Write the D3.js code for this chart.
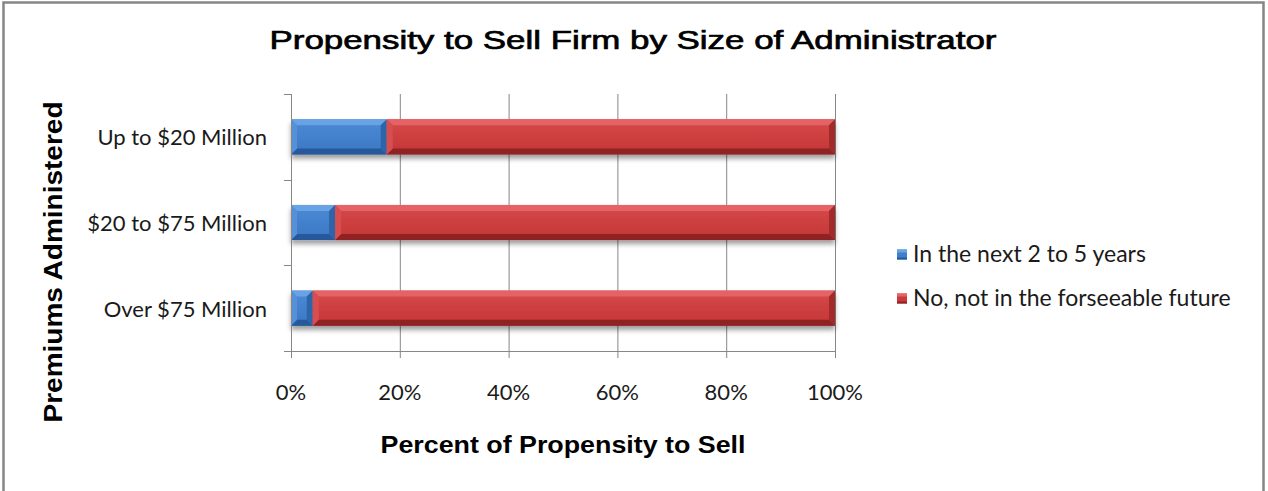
<!DOCTYPE html>
<html>
<head>
<meta charset="utf-8">
<script src="https://cdn.jsdelivr.net/npm/d3@7"></script>
<style>
  html, body { margin: 0; padding: 0; background: #ffffff; }
  svg { display: block; }
</style>
</head>
<body>
<svg id="chart" width="1268" height="491"></svg>
<script>
// Chart data
const categories = ["Up to $20 Million", "$20 to $75 Million", "Over $75 Million"];
const seriesNames = ["In the next 2 to 5 years", "No, not in the forseeable future"];
const nextTwoToFive = [17.6, 8.1, 4.0];
const notForeseeable = [82.4, 91.9, 96.0];
const xTicks = [0, 20, 40, 60, 80, 100];

const svg = d3.select("#chart");

// Outer frame
svg.append("rect")
  .attr("x", 3.5).attr("y", 2.5)
  .attr("width", 1260).attr("height", 500)
  .attr("fill", "#fff").attr("stroke", "#868686").attr("stroke-width", 2.5);

const plot = { left: 291, right: 835, top: 94, bottom: 351 };

const x = d3.scaleLinear().domain([0, 100]).range([plot.left, plot.right]);
const y = d3.scaleBand().domain(categories)
  .range([plot.top, plot.bottom])
  .paddingInner(0.59).paddingOuter(0.295);

const axisColor = "#878787";
const labelFont = "Lato, 'Open Sans', sans-serif";
const titleFont = "'Liberation Sans', Arial, sans-serif";

// Gridlines
svg.append("g").selectAll("line")
  .data(xTicks.filter(t => t > 0))
  .join("line")
  .attr("x1", d => x(d) + 0.5).attr("x2", d => x(d) + 0.5)
  .attr("y1", plot.top).attr("y2", plot.bottom)
  .attr("stroke", axisColor).attr("stroke-width", 1);

// Defs: drop shadow and face gradients for the bars
const defs = svg.append("defs");
const f = defs.append("filter").attr("id", "shadow")
  .attr("x", "-5%").attr("y", "-20%").attr("width", "110%").attr("height", "160%");
f.append("feDropShadow").attr("dx", 0).attr("dy", 4).attr("stdDeviation", 2.4)
  .attr("flood-color", "#000").attr("flood-opacity", 0.38);

const palettes = [
  { face: "#3f7ecb", top: "#69a3e6", left: "#5590d9", bottom: "#27599a", right: "#2f65a8", g1: "#4c8bd6", g2: "#3a77c2" },
  { face: "#cb3a3b", top: "#e56466", left: "#d84e50", bottom: "#8f2224", right: "#a22a2c", g1: "#d64a4b", g2: "#c43536" }
];
palettes.forEach((p, i) => {
  const lg = defs.append("linearGradient").attr("id", "grad" + i)
    .attr("x1", 0).attr("y1", 0).attr("x2", 0).attr("y2", 1);
  lg.append("stop").attr("offset", "0%").attr("stop-color", p.g1);
  lg.append("stop").attr("offset", "100%").attr("stop-color", p.g2);
});

// Stacked segments
const segs = [];
categories.forEach((c, i) => {
  const vals = [nextTwoToFive[i], notForeseeable[i]];
  let acc = 0;
  vals.forEach((v, s) => {
    segs.push({ cat: c, s, x0: acc, x1: acc + v });
    acc += v;
  });
});

// Bevelled bar segments
const bevel = 6;
const barG = svg.append("g").attr("filter", "url(#shadow)");
const segG = barG.selectAll("g.seg").data(segs).join("g").attr("class", "seg");

segG.each(function (d) {
  const g = d3.select(this);
  const p = palettes[d.s];
  const X0 = x(d.x0), X1 = x(d.x1);
  const Y0 = y(d.cat), Y1 = y(d.cat) + y.bandwidth();
  const b = Math.min(bevel, (X1 - X0) / 2, (Y1 - Y0) / 2);
  g.append("rect").attr("x", X0).attr("y", Y0)
    .attr("width", X1 - X0).attr("height", Y1 - Y0)
    .attr("fill", `url(#grad${d.s})`);
  const poly = (pts, fill) => g.append("polygon")
    .attr("points", pts.map(q => q.join(",")).join(" "))
    .attr("fill", fill);
  poly([[X0, Y0], [X1, Y0], [X1 - b, Y0 + b], [X0 + b, Y0 + b]], p.top);
  poly([[X0, Y1], [X1, Y1], [X1 - b, Y1 - b], [X0 + b, Y1 - b]], p.bottom);
  poly([[X0, Y0], [X0 + b, Y0 + b], [X0 + b, Y1 - b], [X0, Y1]], p.left);
  poly([[X1, Y0], [X1 - b, Y0 + b], [X1 - b, Y1 - b], [X1, Y1]], p.right);
});

// Vertical (category) axis with ticks at band boundaries
const yAxis = svg.append("g");
yAxis.append("line")
  .attr("x1", plot.left + 0.5).attr("x2", plot.left + 0.5)
  .attr("y1", plot.top).attr("y2", plot.bottom + 7)
  .attr("stroke", axisColor);
const boundaries = categories.map(c => y(c) - y.step() * y.paddingInner() / 2)
  .concat([y(categories[categories.length - 1]) + y.bandwidth() + y.step() * y.paddingInner() / 2]);
yAxis.selectAll("line.tk").data(boundaries).join("line").attr("class", "tk")
  .attr("x1", plot.left - 7).attr("x2", plot.left)
  .attr("y1", d => Math.round(d) + 0.5).attr("y2", d => Math.round(d) + 0.5)
  .attr("stroke", axisColor);
yAxis.selectAll("text").data(categories).join("text")
  .attr("x", 267).attr("y", d => y(d) + y.bandwidth() / 2 + 8.5)
  .attr("text-anchor", "end")
  .style("font-family", labelFont).style("font-size", "22px")
  .attr("fill", "#1a1a1a").text(d => d);

// Horizontal (value) axis
const xAxis = svg.append("g");
xAxis.append("line")
  .attr("x1", plot.left - 7).attr("x2", plot.right)
  .attr("y1", plot.bottom + 0.5).attr("y2", plot.bottom + 0.5)
  .attr("stroke", axisColor);
xAxis.selectAll("line.tk").data(xTicks).join("line").attr("class", "tk")
  .attr("x1", d => x(d) + 0.5).attr("x2", d => x(d) + 0.5)
  .attr("y1", plot.bottom).attr("y2", plot.bottom + 7)
  .attr("stroke", axisColor);
xAxis.selectAll("text").data(xTicks).join("text")
  .attr("x", d => x(d)).attr("y", 400)
  .attr("text-anchor", "middle")
  .style("font-family", labelFont).style("font-size", "22px")
  .attr("fill", "#1a1a1a").text(d => d + "%");

// Titles
svg.append("text").attr("x", 633).attr("y", 49).attr("text-anchor", "middle")
  .attr("textLength", 727).attr("lengthAdjust", "spacingAndGlyphs")
  .style("font-family", titleFont).style("font-size", "26px")
  .attr("fill", "#000").attr("stroke", "#000").attr("stroke-width", 0.7)
  .text("Propensity to Sell Firm by Size of Administrator");

svg.append("text").attr("x", 563).attr("y", 453).attr("text-anchor", "middle")
  .attr("textLength", 365).attr("lengthAdjust", "spacingAndGlyphs")
  .style("font-family", titleFont).style("font-size", "23px")
  .style("font-weight", "bold")
  .attr("fill", "#000").text("Percent of Propensity to Sell");

svg.append("text")
  .attr("transform", "translate(62,262) rotate(-90)")
  .attr("text-anchor", "middle")
  .attr("textLength", 321).attr("lengthAdjust", "spacingAndGlyphs")
  .style("font-family", titleFont).style("font-size", "25px")
  .style("font-weight", "bold")
  .attr("fill", "#000").text("Premiums Administered");

// Legend
const legend = svg.append("g");
seriesNames.forEach((name, i) => {
  const p = palettes[i];
  const base = 262 + i * 44;
  const cy = base - 7.5;
  const gi = legend.append("g");
  gi.append("rect").attr("x", 897).attr("y", cy - 5).attr("width", 10).attr("height", 10)
    .attr("fill", p.face);
  gi.append("rect").attr("x", 897).attr("y", cy - 5).attr("width", 10).attr("height", 3)
    .attr("fill", p.top);
  gi.append("rect").attr("x", 897).attr("y", cy + 3).attr("width", 10).attr("height", 2)
    .attr("fill", p.bottom);
  gi.append("text").attr("x", 913).attr("y", base)
    .style("font-family", labelFont).style("font-size", "23px")
    .attr("fill", "#1a1a1a").text(name);
});
</script>
</body>
</html>
